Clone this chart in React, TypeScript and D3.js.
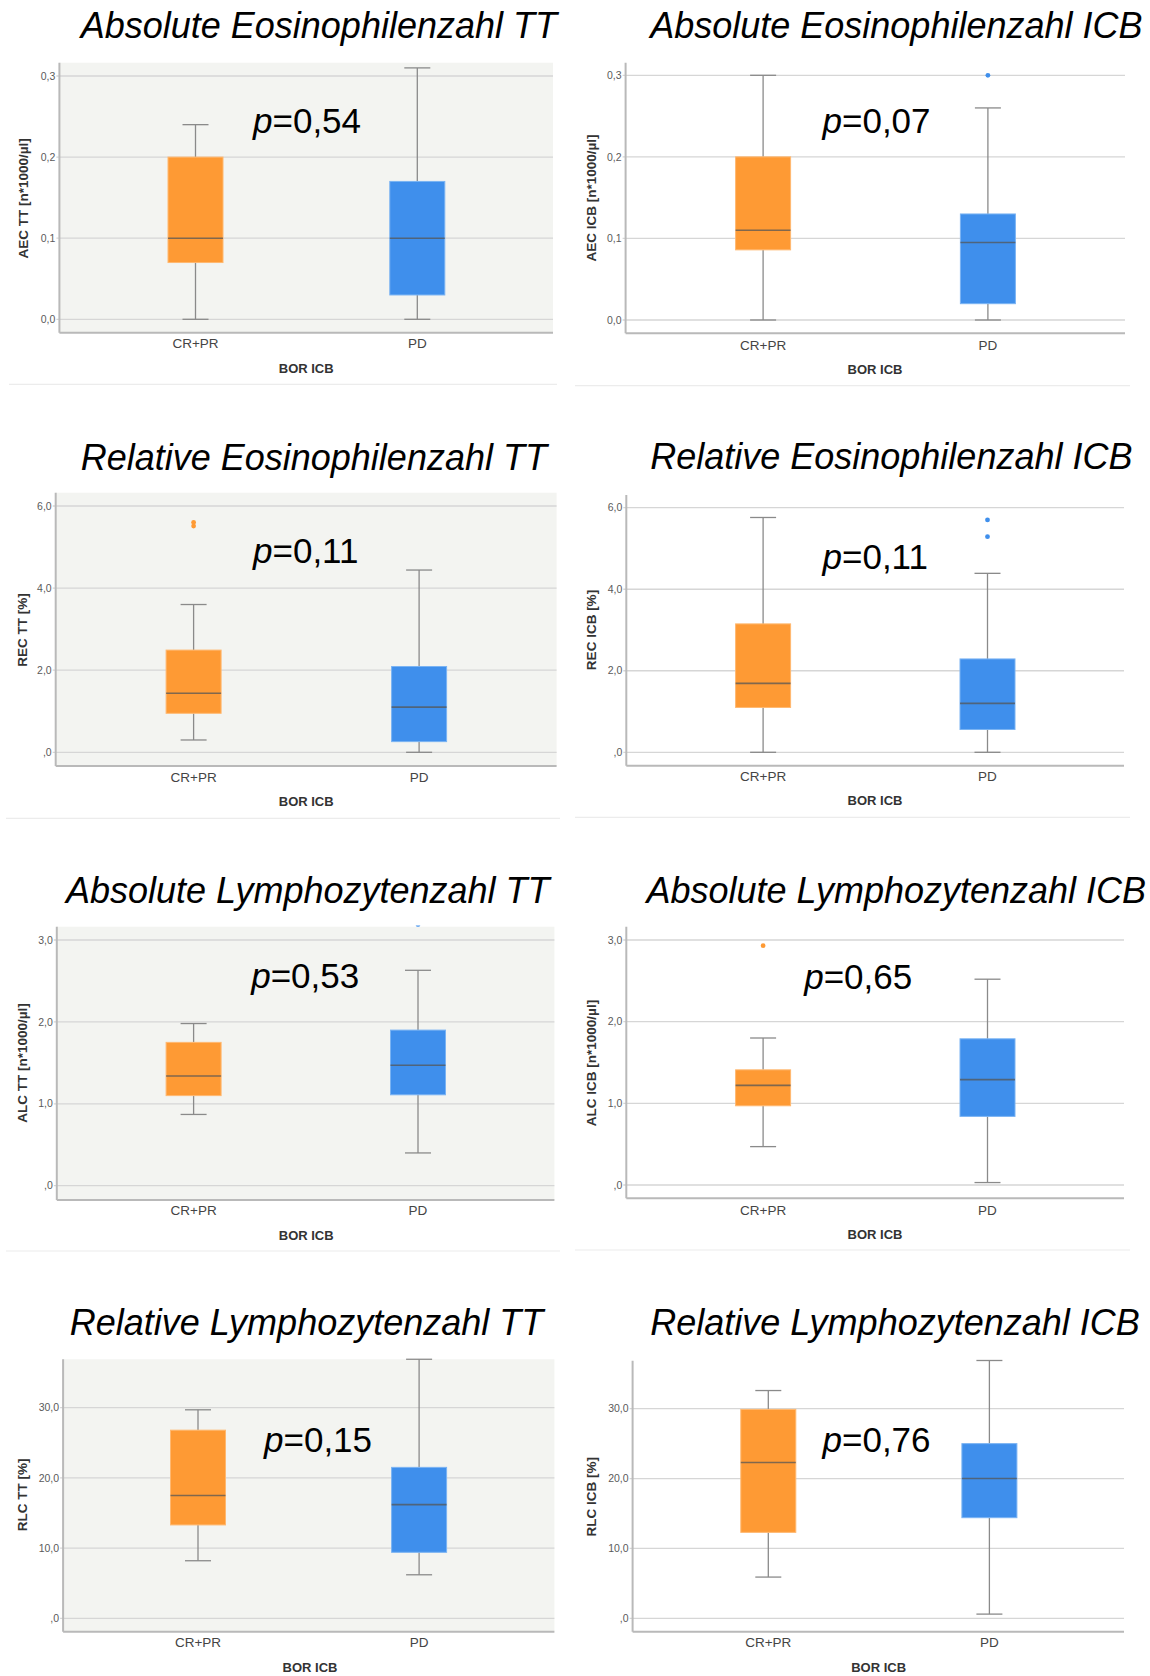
import React from "react";
import * as d3 from "d3";

// Groups on the x axis (best overall response to ICB)
const groups = ["CR+PR", "PD"];

const titles = [
  "Absolute Eosinophilenzahl TT",
  "Absolute Eosinophilenzahl ICB",
  "Relative Eosinophilenzahl TT",
  "Relative Eosinophilenzahl ICB",
  "Absolute Lymphozytenzahl TT",
  "Absolute Lymphozytenzahl ICB",
  "Relative Lymphozytenzahl TT",
  "Relative Lymphozytenzahl ICB",
];

const yTitles = [
  "AEC TT [n*1000/µl]",
  "AEC ICB [n*1000/µl]",
  "REC TT [%]",
  "REC ICB [%]",
  "ALC TT [n*1000/µl]",
  "ALC ICB [n*1000/µl]",
  "RLC TT [%]",
  "RLC ICB [%]",
];

const xTitle = "BOR ICB";

const pValues = ["0,54", "0,07", "0,11", "0,11", "0,53", "0,65", "0,15", "0,76"];

const tickValues = [
  [0, 0.1, 0.2, 0.3],
  [0, 0.1, 0.2, 0.3],
  [0, 2, 4, 6],
  [0, 2, 4, 6],
  [0, 1, 2, 3],
  [0, 1, 2, 3],
  [0, 10, 20, 30],
  [0, 10, 20, 30],
];

const tickLabels = [
  ["0,0", "0,1", "0,2", "0,3"],
  ["0,0", "0,1", "0,2", "0,3"],
  [",0", "2,0", "4,0", "6,0"],
  [",0", "2,0", "4,0", "6,0"],
  [",0", "1,0", "2,0", "3,0"],
  [",0", "1,0", "2,0", "3,0"],
  [",0", "10,0", "20,0", "30,0"],
  [",0", "10,0", "20,0", "30,0"],
];

// Five-number summaries: [min, Q1, median, Q3, max]
const crprStats = [
  [0, 0.07, 0.1, 0.2, 0.24],
  [0, 0.086, 0.11, 0.2, 0.3],
  [0.3, 0.95, 1.44, 2.49, 3.6],
  [0, 1.1, 1.69, 3.15, 5.76],
  [0.87, 1.1, 1.34, 1.75, 1.98],
  [0.47, 0.97, 1.22, 1.41, 1.8],
  [8.2, 13.3, 17.5, 26.8, 29.7],
  [5.9, 12.3, 22.3, 29.9, 32.6],
];

const pdStats = [
  [0, 0.03, 0.1, 0.17, 0.31],
  [0, 0.02, 0.095, 0.13, 0.26],
  [0, 0.26, 1.1, 2.09, 4.44],
  [0, 0.56, 1.2, 2.29, 4.39],
  [0.4, 1.11, 1.47, 1.9, 2.63],
  [0.03, 0.84, 1.29, 1.79, 2.52],
  [6.2, 9.4, 16.2, 21.5, 36.9],
  [0.6, 14.4, 20.0, 25.0, 36.9],
];

const crprOutliers = [[], [], [5.51, 5.6], [], [], [2.93], [], []];
const pdOutliers = [[], [0.3], [], [5.29, 5.7], [3.19], [], [], []];

const groupColors = ["#fe9a34", "#3f8fec"];
const groupStroke = ["#ffb870", "#7ab3f3"];

// Panel geometry in page pixels
const layout = [
  { left: 59.4, right: 553, top: 62.7, bottom: 332.7, y0: 319.3, yTop: 76, cx: [195.5, 417.3], titleX: 80.7, titleY: 38.3, pX: 253, pY: 132.7, catY: 343.3, xtX: 306.2, xtY: 368.3, ytX: 23.3, ytY: 198.3, sepY: 384.3, sepX1: 9, sepX2: 557, shaded: true },
  { left: 625.6, right: 1125, top: 62.7, bottom: 333.3, y0: 320, yTop: 75.3, cx: [763.1, 987.9], titleX: 650.2, titleY: 38.3, pX: 822.5, pY: 132.7, catY: 345, xtX: 875, xtY: 369, ytX: 591.5, ytY: 198, sepY: 385.7, sepX1: 575, sepX2: 1130, shaded: false },
  { left: 55.7, right: 556.6, top: 492.7, bottom: 766, y0: 752.3, yTop: 506, cx: [193.6, 419.1], titleX: 80.7, titleY: 470, pX: 253, pY: 562.7, catY: 777.3, xtX: 306.2, xtY: 801.7, ytX: 22, ytY: 630, sepY: 818.3, sepX1: 6, sepX2: 560, shaded: true },
  { left: 626.3, right: 1124, top: 495, bottom: 765.7, y0: 752.3, yTop: 507.7, cx: [763.1, 987.5], titleX: 650.2, titleY: 469.3, pX: 822.5, pY: 569.3, catY: 776.7, xtX: 875, xtY: 800.7, ytX: 591.5, ytY: 630, sepY: 817.3, sepX1: 575, sepX2: 1130, shaded: false },
  { left: 56.8, right: 554.4, top: 926.7, bottom: 1200, y0: 1185.7, yTop: 940, cx: [193.6, 418], titleX: 66, titleY: 903.3, pX: 251.2, pY: 987.7, catY: 1210.7, xtX: 306.2, xtY: 1235, ytX: 22.7, ytY: 1063, sepY: 1251, sepX1: 6, sepX2: 560, shaded: true },
  { left: 626.3, right: 1124, top: 926.7, bottom: 1198.3, y0: 1185, yTop: 940, cx: [763.1, 987.5], titleX: 646.5, titleY: 903.3, pX: 804.2, pY: 989.3, catY: 1210, xtX: 875, xtY: 1234, ytX: 591.5, ytY: 1063, sepY: 1250, sepX1: 575, sepX2: 1130, shaded: false },
  { left: 63.1, right: 554.4, top: 1359.3, bottom: 1631.7, y0: 1618.3, yTop: 1407.7, cx: [198, 419.1], titleX: 69.7, titleY: 1335, pX: 264, pY: 1451.7, catY: 1642.7, xtX: 310, xtY: 1667.3, ytX: 22, ytY: 1495, sepY: null, sepX1: 0, sepX2: 0, shaded: true },
  { left: 632.6, right: 1124, top: 1360.7, bottom: 1631.7, y0: 1618.3, yTop: 1408.7, cx: [768.3, 989.4], titleX: 650.2, titleY: 1335, pX: 822.5, pY: 1451.7, catY: 1642.7, xtX: 878.6, xtY: 1667.3, ytX: 591.5, ytY: 1496.7, sepY: null, sepX1: 0, sepX2: 0, shaded: false },
];

const FONT = "'Liberation Sans', Arial, Helvetica, sans-serif";
const BOX_HALF = 27.5;
const CAP_HALF = 13;

function Panel({ i }: { i: number }) {
  const L = layout[i];
  const ticks = tickValues[i];
  const y = d3
    .scaleLinear()
    .domain([0, ticks[ticks.length - 1]])
    .range([L.y0, L.yTop]);
  const x = d3.scalePoint<string>().domain(groups).range(L.cx as [number, number]);
  const stats = [crprStats[i], pdStats[i]];
  const outliers = [crprOutliers[i], pdOutliers[i]];
  const clipId = `clip-${i}`;

  return (
    <g>
      <defs>
        <clipPath id={clipId}>
          <rect x={L.left} y={L.top - 1.2} width={L.right - L.left} height={L.bottom - L.top + 1.2} />
        </clipPath>
      </defs>

      {L.sepY !== null && (
        <line x1={L.sepX1} x2={L.sepX2} y1={L.sepY} y2={L.sepY} stroke="#ececec" strokeWidth={1.2} />
      )}

      <text x={L.titleX} y={L.titleY} fontFamily={FONT} fontStyle="italic" fontSize={36} fill="#000">
        {titles[i]}
      </text>

      {L.shaded && (
        <rect x={L.left} y={L.top} width={L.right - L.left} height={L.bottom - L.top} fill="#f3f4f1" />
      )}

      {ticks.map((t, k) => (
        <g key={k}>
          <line x1={L.left - 3} x2={L.right} y1={y(t)} y2={y(t)} stroke="#d6d6d6" strokeWidth={1.3} />
          <text
            x={L.left - 4}
            y={y(t)}
            dy="0.35em"
            textAnchor="end"
            fontFamily={FONT}
            fontSize={10.5}
            fill="#5a5a5a"
          >
            {tickLabels[i][k]}
          </text>
        </g>
      ))}

      {/* axes */}
      <line x1={L.left} x2={L.left} y1={L.top} y2={L.bottom} stroke="#b9b9b9" strokeWidth={2} />
      <line x1={L.left} x2={L.right} y1={L.bottom} y2={L.bottom} stroke="#b9b9b9" strokeWidth={2} />

      {groups.map((g, k) => {
        const [mn, q1, md, q3, mx] = stats[k];
        const cx = x(g) as number;
        return (
          <g key={g}>
            <line x1={cx} x2={cx} y1={y(mn)} y2={y(q1)} stroke="#8a8a8a" strokeWidth={1.3} />
            <line x1={cx} x2={cx} y1={y(q3)} y2={y(mx)} stroke="#8a8a8a" strokeWidth={1.3} />
            <line x1={cx - CAP_HALF} x2={cx + CAP_HALF} y1={y(mn)} y2={y(mn)} stroke="#8a8a8a" strokeWidth={1.3} />
            <line x1={cx - CAP_HALF} x2={cx + CAP_HALF} y1={y(mx)} y2={y(mx)} stroke="#8a8a8a" strokeWidth={1.3} />
            <rect
              x={cx - BOX_HALF}
              y={y(q3)}
              width={BOX_HALF * 2}
              height={y(q1) - y(q3)}
              fill={groupColors[k]}
              stroke={groupStroke[k]}
              strokeWidth={1}
            />
            <line
              x1={cx - BOX_HALF}
              x2={cx + BOX_HALF}
              y1={y(md)}
              y2={y(md)}
              stroke="#555"
              strokeOpacity={0.75}
              strokeWidth={1.6}
            />
            <g clipPath={`url(#${clipId})`}>
              {outliers[k].map((v, m) => (
                <circle key={m} cx={cx} cy={y(v)} r={2.4} fill={groupColors[k]} />
              ))}
            </g>
            <text
              x={cx}
              y={L.catY}
              dy="0.35em"
              textAnchor="middle"
              fontFamily={FONT}
              fontSize={13.5}
              fill="#444"
            >
              {g}
            </text>
          </g>
        );
      })}

      <text
        x={L.xtX}
        y={L.xtY}
        dy="0.35em"
        textAnchor="middle"
        fontFamily={FONT}
        fontSize={13}
        fontWeight="bold"
        fill="#333"
      >
        {xTitle}
      </text>

      <text
        transform={`translate(${L.ytX},${L.ytY}) rotate(-90)`}
        dy="0.35em"
        textAnchor="middle"
        fontFamily={FONT}
        fontSize={13.5}
        fontWeight="bold"
        fill="#333"
      >
        {yTitles[i]}
      </text>

      <text x={L.pX} y={L.pY} fontFamily={FONT} fontSize={35} fill="#000">
        <tspan fontStyle="italic">p</tspan>={pValues[i]}
      </text>
    </g>
  );
}

export default function App() {
  return (
    <svg
      width={1150}
      height={1676}
      viewBox="0 0 1150 1676"
      style={{ position: "absolute", left: 0, top: 0, background: "#fff" }}
    >
      <rect x={0} y={0} width={1150} height={1676} fill="#fff" />
      {titles.map((_, i) => (
        <Panel key={i} i={i} />
      ))}
    </svg>
  );
}
